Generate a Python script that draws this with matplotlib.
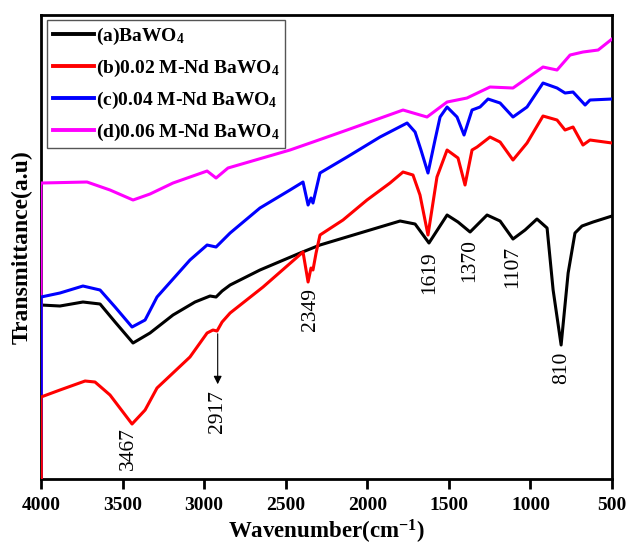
import matplotlib.pyplot as plt

plt.rcParams['font.family'] = 'Liberation Serif'
plt.rcParams['mathtext.fontset'] = 'custom'
plt.rcParams['mathtext.rm'] = 'Liberation Serif:bold'
plt.rcParams['mathtext.it'] = 'Liberation Serif:bold'
plt.rcParams['mathtext.bf'] = 'Liberation Serif:bold'

# FTIR spectra (wavenumber in cm-1, transmittance in arbitrary units)
wn_a = [3998, 4000, 3884, 3743, 3638, 3546, 3436, 3332, 3191, 3056, 2964, 2927, 2890, 2841, 2658,
        2412, 2290, 2106, 1922, 1799, 1707, 1622, 1511, 1444, 1370, 1266, 1186, 1107, 1033, 960,
        898, 861, 812, 769, 727, 684, 616, 500]
t_a = [0, 174, 173, 177, 175, 157, 136, 146, 164, 177, 183, 182, 188, 194, 209,
       226, 234, 243, 252, 258, 255, 236, 264, 257, 247, 264, 258, 240, 249, 260,
       251, 189, 134, 206, 246, 253, 257, 263]

wn_b = [3998, 4000, 3884, 3730, 3669, 3577, 3442, 3362, 3289, 3087, 2982, 2946, 2921, 2890, 2841,
        2639, 2394, 2363, 2345, 2333, 2314, 2290, 2149, 2002, 1861, 1781, 1720, 1677, 1628, 1573,
        1511, 1444, 1401, 1358, 1327, 1248, 1186, 1107, 1021, 923, 837, 788, 739, 678, 635, 500]
t_b = [0, 82, 89, 98, 97, 84, 55, 69, 91, 122, 146, 149, 148, 157, 166,
       192, 227, 197, 211, 209, 226, 244, 259, 279, 296, 307, 304, 284, 244, 302,
       329, 321, 294, 329, 332, 342, 337, 319, 336, 363, 359, 349, 352, 334, 339, 336]

wn_c = [3998, 4000, 3884, 3743, 3638, 3546, 3442, 3362, 3289, 3087, 2982, 2927, 2841, 2658, 2474,
        2394, 2363, 2345, 2333, 2290, 2124, 1922, 1756, 1707, 1671, 1628, 1585, 1554, 1511, 1450,
        1407, 1358, 1309, 1260, 1186, 1107, 1021, 923, 837, 788, 739, 665, 635, 500]
t_c = [0, 182, 186, 193, 189, 172, 152, 159, 182, 219, 234, 232, 246, 271, 289,
       297, 274, 281, 276, 306, 322, 342, 356, 347, 329, 306, 339, 362, 372, 362,
       344, 369, 372, 380, 376, 362, 372, 396, 391, 386, 387, 374, 379, 380]

wn_d = [3998, 4000, 3718, 3577, 3436, 3332, 3191, 2982, 2927, 2854, 2474, 2333, 2124, 1781, 1634,
        1511, 1389, 1248, 1107, 923, 837, 757, 678, 585, 500]
t_d = [0, 296, 297, 289, 279, 285, 296, 308, 301, 311, 329, 337, 349, 369, 362,
       377, 381, 392, 391, 412, 409, 424, 427, 429, 440]

labels = ['(a)BaWO$_4$', '(b)0.02 M-Nd BaWO$_4$', '(c)0.04 M-Nd BaWO$_4$', '(d)0.06 M-Nd BaWO$_4$']

# Peak labels: wavenumber, label height
peak_wn = [3467, 2349, 1619, 1370, 1107, 810]
peak_y = [30, 170, 206, 219, 212, 111]

fig = plt.figure(figsize=(6.29, 5.48), dpi=100)
ax = fig.add_axes([0.0652, 0.1259, 0.9078, 0.8467])

la, = ax.plot(wn_a, t_a, color='black', lw=2.2, zorder=2)
ld, = ax.plot(wn_d, t_d, color='#ff00ff', lw=2.2, zorder=3)
lc, = ax.plot(wn_c, t_c, color='#0000ff', lw=2.2, zorder=4)
lb, = ax.plot(wn_b, t_b, color='#ff0000', lw=2.2, zorder=5)

for w, y in zip(peak_wn, peak_y):
    ax.text(w, y, str(w), rotation=90, ha='center', va='center', fontsize=15.5)

# arrow for the 2917 band
ax.annotate('', xy=(2917, 92), xytext=(2917, 148),
            arrowprops=dict(arrowstyle='-|>', color='black', lw=0.8, mutation_scale=12))
ax.text(2917, 67, '2917', rotation=90, ha='center', va='center', fontsize=15.5)

ax.set_xlim(4000, 500)
ax.set_ylim(0, 464)
ax.set_xticks([4000, 3500, 3000, 2500, 2000, 1500, 1000, 500])
ax.set_yticks([])
ax.tick_params(axis='x', direction='out', length=7, width=2, labelsize=14, pad=6)
for lab in ax.get_xticklabels():
    lab.set_fontweight('bold')
for sp in ax.spines.values():
    sp.set_linewidth(2)

ax.set_xlabel('Wavenumber(cm$^{-1}$)', fontsize=16.5, fontweight='bold', labelpad=3)
ax.set_ylabel('Transmittance(a.u)', fontsize=17, fontweight='bold', labelpad=6)

leg = ax.legend([la, lb, lc, ld], labels, loc='upper left', bbox_to_anchor=(0.0105, 0.989),
                borderaxespad=0, fancybox=False, framealpha=1, handlelength=2.1,
                handletextpad=0.1, labelspacing=0.55, borderpad=0.3,
                prop={'weight': 'bold', 'size': 14})
leg.get_frame().set_edgecolor('#555555')
leg.get_frame().set_linewidth(1.0)
for line in leg.get_lines():
    line.set_linewidth(2.8)

plt.savefig('out.png', dpi=100)
